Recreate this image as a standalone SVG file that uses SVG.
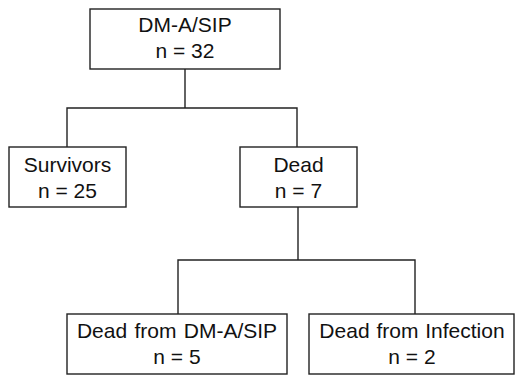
<svg xmlns="http://www.w3.org/2000/svg" width="515" height="377" viewBox="0 0 515 377">
<style>
.box{fill:#fff;stroke:#222;stroke-width:1.4}
.ln{fill:none;stroke:#222;stroke-width:1.4}
text{font-family:"Liberation Sans",Arial,sans-serif;font-size:21px;fill:#111;text-anchor:middle}
</style>
<rect width="515" height="377" fill="#fff"/>
<g id="connectors">
<polyline class="ln" points="185,69 185,108"/>
<polyline class="ln" points="67,147 67,108 297,108 297,147"/>
<polyline class="ln" points="298,207 298,260"/>
<polyline class="ln" points="178,314 178,260 415,260 415,314"/>
</g>
<g id="root">
<rect class="box" x="90" y="9" width="190" height="60"/>
<text x="185" y="32">DM-A/SIP</text>
<text x="185" y="58">n = 32</text>
</g>
<g id="survivors">
<rect class="box" x="9" y="147" width="117" height="60"/>
<text x="67.5" y="172">Survivors</text>
<text x="67.5" y="198">n = 25</text>
</g>
<g id="dead">
<rect class="box" x="240" y="147" width="117" height="60"/>
<text x="298.5" y="172">Dead</text>
<text x="298.5" y="198">n = 7</text>
</g>
<g id="dead-dmasip">
<rect class="box" x="67" y="314" width="220" height="60"/>
<text x="177" y="338" word-spacing="1.5">Dead from DM-A/SIP</text>
<text x="177" y="364">n = 5</text>
</g>
<g id="dead-infection">
<rect class="box" x="309" y="314" width="205" height="60"/>
<text x="412" y="338" word-spacing="1">Dead from Infection</text>
<text x="412" y="364">n = 2</text>
</g>
</svg>
